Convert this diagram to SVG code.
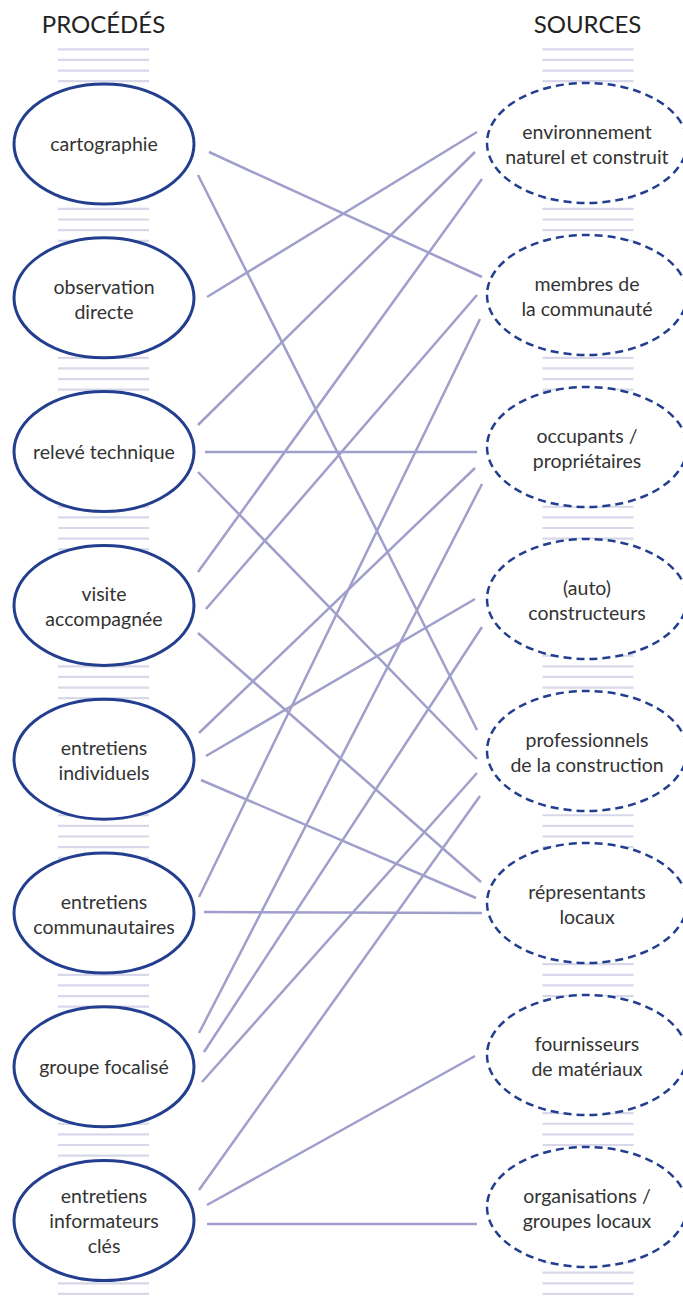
<svg xmlns="http://www.w3.org/2000/svg" width="683" height="1303" viewBox="0 0 683 1303">
<style>
.bg{fill:#ffffff}
.stripes{fill:none;stroke:#d8d8ea;stroke-width:91;stroke-dasharray:2.2 8.438}
.proc{fill:#ffffff;stroke:#233e8e;stroke-width:3}
.src{fill:#ffffff;stroke:#233e8e;stroke-width:2.5;stroke-dasharray:8 5}
.lbl{font-family:Lato,"Liberation Sans",sans-serif;font-size:19.5px;fill:#333333;text-anchor:middle}
.title{font-family:Lato,"Liberation Sans",sans-serif;font-size:24px;fill:#222222;text-anchor:middle}
.conn line{stroke:#a09fcb;stroke-width:2.5;stroke-linecap:butt}
</style>
<rect class="bg" x="0" y="0" width="683" height="1303"/>
<text class="title" x="103.5" y="33">PROCÉDÉS</text>
<text class="title" x="587.5" y="33">SOURCES</text>
<g id="stripes">
<line class="stripes" x1="103.5" y1="48.2" x2="103.5" y2="1296"/>
<line class="stripes" x1="588" y1="48.2" x2="588" y2="1296"/>
</g>
<g id="connectors" class="conn">
<line x1="209" y1="152" x2="482" y2="277"/>
<line x1="198" y1="175" x2="477" y2="730"/>
<line x1="207" y1="297" x2="477" y2="132"/>
<line x1="198" y1="425" x2="475" y2="152"/>
<line x1="205" y1="452" x2="477" y2="452"/>
<line x1="198" y1="472" x2="477" y2="759"/>
<line x1="198" y1="572" x2="482" y2="179"/>
<line x1="206" y1="609" x2="477" y2="295"/>
<line x1="198" y1="633" x2="481" y2="882"/>
<line x1="199" y1="733" x2="475" y2="468"/>
<line x1="206" y1="756" x2="475" y2="599"/>
<line x1="201" y1="780" x2="476" y2="898"/>
<line x1="199" y1="897" x2="480" y2="319"/>
<line x1="204" y1="912" x2="482" y2="913"/>
<line x1="199" y1="1033" x2="482" y2="484"/>
<line x1="204" y1="1052" x2="482" y2="627"/>
<line x1="202" y1="1082" x2="477" y2="773"/>
<line x1="199" y1="1190" x2="480" y2="796"/>
<line x1="207" y1="1205" x2="475" y2="1056"/>
<line x1="207" y1="1224" x2="477" y2="1224"/>
</g>
<g id="p-cartographie"><ellipse class="proc" cx="104" cy="144" rx="90" ry="60"/><text class="lbl" x="104" y="151">cartographie</text></g>
<g id="p-observation"><ellipse class="proc" cx="104" cy="297.8" rx="90" ry="60"/><text class="lbl" x="104" y="293.5">observation</text><text class="lbl" x="104" y="318.5">directe</text></g>
<g id="p-releve"><ellipse class="proc" cx="104" cy="451.6" rx="90" ry="60"/><text class="lbl" x="104" y="458.6">relevé technique</text></g>
<g id="p-visite"><ellipse class="proc" cx="104" cy="605.4" rx="90" ry="60"/><text class="lbl" x="104" y="601.4">visite</text><text class="lbl" x="104" y="626.4">accompagnée</text></g>
<g id="p-indiv"><ellipse class="proc" cx="104" cy="759.2" rx="90" ry="60"/><text class="lbl" x="104" y="755.2">entretiens</text><text class="lbl" x="104" y="780.2">individuels</text></g>
<g id="p-commu"><ellipse class="proc" cx="104" cy="913" rx="90" ry="60"/><text class="lbl" x="104" y="909">entretiens</text><text class="lbl" x="104" y="934">communautaires</text></g>
<g id="p-groupe"><ellipse class="proc" cx="104" cy="1066.8" rx="90" ry="60"/><text class="lbl" x="104" y="1073.8">groupe focalisé</text></g>
<g id="p-informateurs"><ellipse class="proc" cx="104" cy="1220.6" rx="90" ry="60"/><text class="lbl" x="104" y="1203">entretiens</text><text class="lbl" x="104" y="1228">informateurs</text><text class="lbl" x="104" y="1253">clés</text></g>
<g id="s-environnement"><ellipse class="src" cx="587" cy="143" rx="100" ry="60"/><text class="lbl" x="587" y="138.5">environnement</text><text class="lbl" x="587" y="163.5">naturel et construit</text></g>
<g id="s-membres"><ellipse class="src" cx="587" cy="295" rx="100" ry="60"/><text class="lbl" x="587" y="290.5">membres de</text><text class="lbl" x="587" y="315.5">la communauté</text></g>
<g id="s-occupants"><ellipse class="src" cx="587" cy="447" rx="100" ry="60"/><text class="lbl" x="587" y="442.5">occupants /</text><text class="lbl" x="587" y="467.5">propriétaires</text></g>
<g id="s-auto"><ellipse class="src" cx="587" cy="599" rx="100" ry="60"/><text class="lbl" x="587" y="594.5">(auto)</text><text class="lbl" x="587" y="619.5">constructeurs</text></g>
<g id="s-professionnels"><ellipse class="src" cx="587" cy="751" rx="100" ry="60"/><text class="lbl" x="587" y="746.5">professionnels</text><text class="lbl" x="587" y="771.5">de la construction</text></g>
<g id="s-representants"><ellipse class="src" cx="587" cy="903" rx="100" ry="60"/><text class="lbl" x="587" y="898.5">répresentants</text><text class="lbl" x="587" y="923.5">locaux</text></g>
<g id="s-fournisseurs"><ellipse class="src" cx="587" cy="1055" rx="100" ry="60"/><text class="lbl" x="587" y="1050.5">fournisseurs</text><text class="lbl" x="587" y="1075.5">de matériaux</text></g>
<g id="s-organisations"><ellipse class="src" cx="587" cy="1207" rx="100" ry="60"/><text class="lbl" x="587" y="1202.5">organisations /</text><text class="lbl" x="587" y="1227.5">groupes locaux</text></g>
</svg>
